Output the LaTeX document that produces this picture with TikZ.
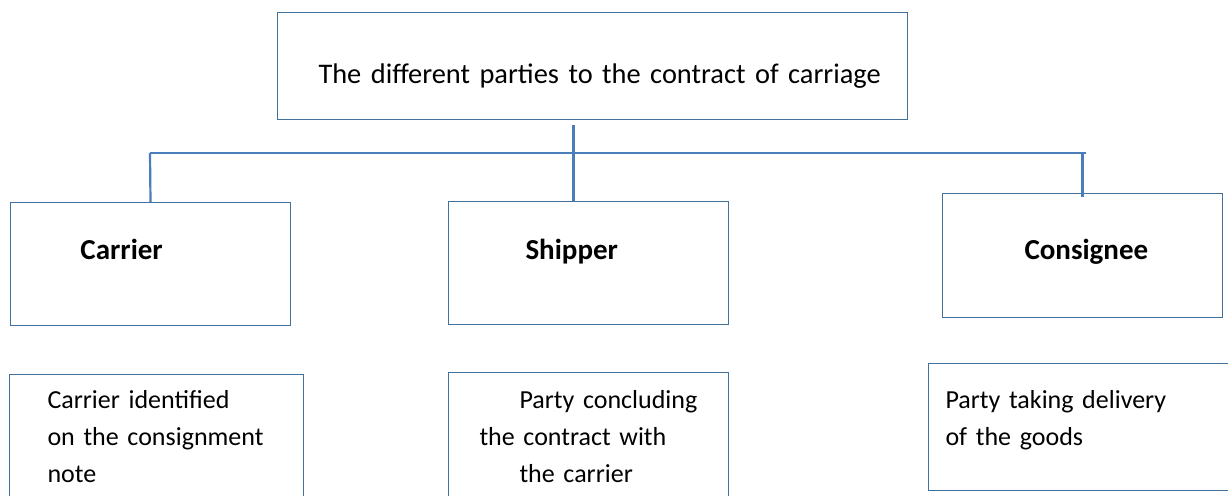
\documentclass[tikz,border=0pt]{standalone}
\usepackage{fontspec}
\setmainfont{Carlito}
\usetikzlibrary{positioning,calc}
\definecolor{boxblue}{HTML}{41719C}
\definecolor{linkblue}{HTML}{4A7EBB}
\setlength{\parindent}{0pt}

\begin{document}
\begin{tikzpicture}[
  x=1pt, y=-1pt,
  every node/.style={inner sep=0pt, anchor=north west, align=left},
  box/.style={draw=boxblue, line width=1pt},
  head/.style={font=\fontsize{28.4}{35}\selectfont},
  party/.style={font=\fontsize{29}{35}\selectfont\bfseries},
  note/.style={font=\fontsize{26}{37}\selectfont},
  link/.style={draw=linkblue, line width=2.2pt},
]
  \clip (0,0) rectangle (1228,495);
  \fill[white] (0,0) rectangle (1228,495);

  % heading
  \node[box, head, text width=630pt, text height=71pt, text depth=36pt] (top) at (277,12)
    {\hspace*{41pt}The different parties to the contract of carriage};

  % the three parties
  \node[box, party, text width=280pt, text height=57pt, text depth=66pt] (carrier) at (10,202)
    {\hspace*{70pt}Carrier};
  \node[box, party, text width=280pt, text height=58pt, text depth=65pt] (shipper) at (448,201)
    {\hspace*{77pt}Shipper};
  \node[box, party, text width=280pt, text height=66pt, text depth=58pt] (consignee) at (942,193)
    {\hspace*{82pt}Consignee};

  % descriptions
  \node[box, note, text width=294pt, text height=34pt, text depth=140pt] (carrierdesc) at (9,374)
    {\hspace*{38pt}Carrier identified\\\hspace*{38pt}on the consignment\\\hspace*{38pt}note};
  \node[box, note, text width=280pt, text height=36pt, text depth=140pt] (shipperdesc) at (448,372)
    {\hspace*{71pt}Party concluding\\\hspace*{31pt}the contract with\\\hspace*{71pt}the carrier};
  \node[box, note, text width=303pt, text height=45pt, text depth=82pt] (consigneedesc) at (928,363)
    {\hspace*{17pt}Party taking delivery\\\hspace*{17pt}of the goods};

  % connectors
  \coordinate (busL) at (150,153);
  \coordinate (busR) at (1086,153);
  \draw[link] (busL) -- (busR);
  \draw[link] ([xshift=-19pt,yshift=-5pt]top.south) -- ([xshift=-15pt]shipper.north);
  \draw[link] (busL) -- (carrier.north);
  \draw[link] (busR -| consignee.north) -- ([yshift=-4pt]consignee.north);
\end{tikzpicture}
\end{document}
